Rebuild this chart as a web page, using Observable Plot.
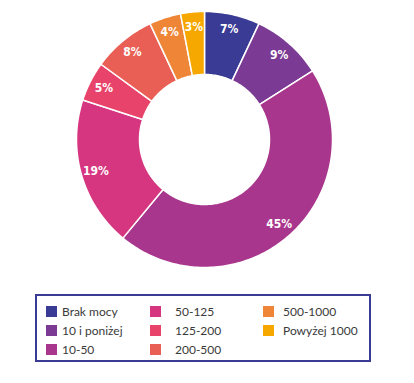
<!DOCTYPE html>
<html><head><meta charset="utf-8">
<script src="https://cdn.jsdelivr.net/npm/d3@7"></script>
<script src="https://cdn.jsdelivr.net/npm/@observablehq/plot@0.6"></script>
<style>
body{margin:0;background:#fff;font-family:Lato,"Open Sans",sans-serif;}
#chart text{font-stretch:condensed;}
#legend{box-sizing:border-box;margin:9px 0 0 35px;width:336px;height:68px;border:2px solid #3A3B94;position:relative;}
.item{position:absolute;display:flex;align-items:center;font-size:12px;color:#3a3a3a;white-space:nowrap;}
.sw{width:11px;height:11px;margin-right:5px;}
</style></head>
<body><div id="chart"></div><div id="legend"></div>
<script>
const categories = ["Brak mocy","10 i poniżej","10-50","50-125","125-200","200-500","500-1000","Powyżej 1000"];
const values = [7, 9, 45, 19, 5, 8, 4, 3];
const colors = ["#3A3B94","#7B3A93","#A8368C","#D6357F","#E8436A","#E95F55","#EE8537","#F6A700"];

const R = 128, r = 65, rl = 113;
const total = d3.sum(values);
const pie = d3.pie().sort(null).value(d => d)(values);
const pts = [];
const labels = [];
pie.forEach((p, i) => {
  const a0 = p.startAngle, a1 = p.endAngle;
  const n = Math.max(4, Math.ceil((a1 - a0) / 0.02));
  const ring = [];
  for (let k = 0; k <= n; k++) { const a = a0 + (a1 - a0) * k / n; ring.push([R * Math.sin(a), R * Math.cos(a)]); }
  for (let k = n; k >= 0; k--) { const a = a0 + (a1 - a0) * k / n; ring.push([r * Math.sin(a), r * Math.cos(a)]); }
  ring.push(ring[0]);
  ring.forEach(([x, y]) => pts.push({cat: categories[i], x, y}));
  const m = (a0 + a1) / 2;
  labels.push({x: rl * Math.sin(m), y: rl * Math.cos(m), t: Math.round(values[i] / total * 100) + "%"});
});

const chart = Plot.plot({
  width: 414, height: 285, margin: 0,
  x: {domain: [-204, 210], axis: null},
  y: {domain: [-146, 139], axis: null},
  color: {domain: categories, range: colors},
  marks: [
    Plot.line(pts, {x: "x", y: "y", z: "cat", fill: "cat", stroke: "white", strokeWidth: 1.5, curve: "linear"}),
    Plot.text(labels, {x: "x", y: "y", text: "t", fill: "white", fontSize: 12, fontWeight: "bold",
      fontFamily: "'DejaVu Sans Condensed','DejaVu Sans',sans-serif"})
  ]
});
document.getElementById("chart").append(chart);

const leg = document.getElementById("legend");
const colX = [9, 113, 226], rowY = [18, 37, 56];
categories.forEach((c, i) => {
  const col = Math.floor(i / 3), row = i % 3;
  const d = document.createElement("div");
  d.className = "item";
  d.style.left = colX[col] + "px";
  d.style.top = (rowY[row] - 2 - 8) + "px";
  d.innerHTML = `<span class="sw" style="background:${colors[i]}"></span><span style="margin-left:${col===0?0:col===1?9:4}px">${c}</span>`;
  leg.append(d);
});
</script></body></html>
